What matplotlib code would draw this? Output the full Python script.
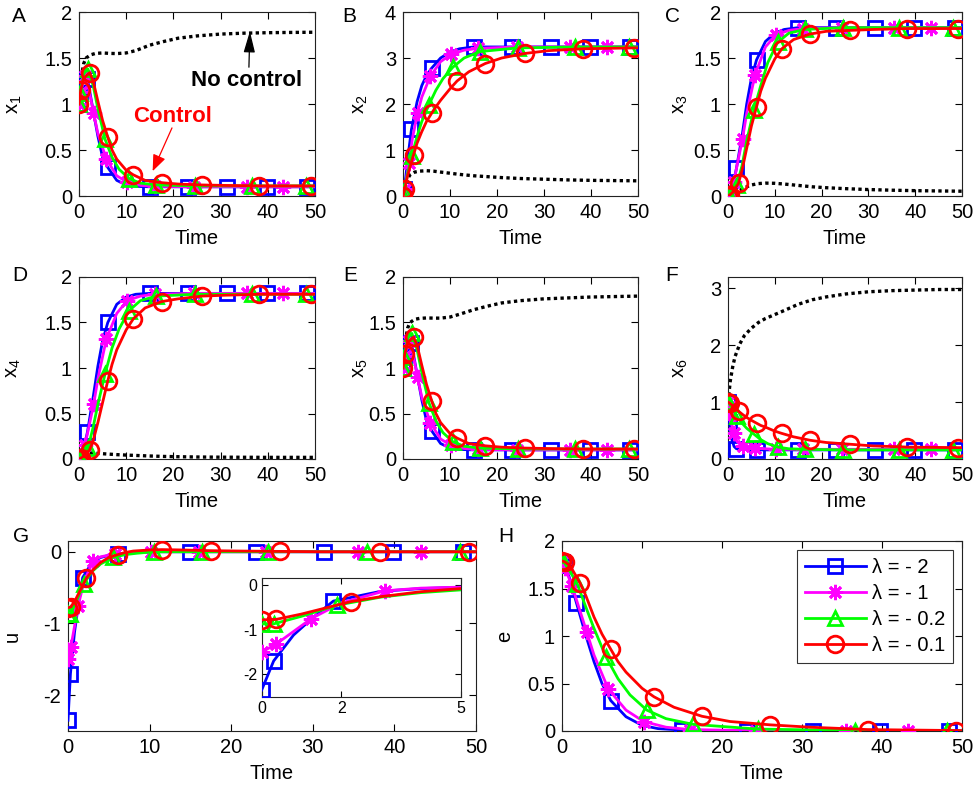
import numpy as np
import matplotlib
matplotlib.use("Agg")
import matplotlib.pyplot as plt
from matplotlib.ticker import FuncFormatter

plt.rcParams['font.family'] = ['Liberation Sans', 'DejaVu Sans']
plt.rcParams['mathtext.fontset'] = 'custom'
plt.rcParams['mathtext.rm'] = 'Liberation Sans'
plt.rcParams['mathtext.it'] = 'Liberation Sans'
plt.rcParams['mathtext.default'] = 'regular'
plt.rcParams['axes.unicode_minus'] = False

# ---------------- data ----------------
# time points of each controlled solution (lambda values)
t_blue = [0, 0.3, 0.8, 1.3, 1.8, 3, 4, 5, 6.1, 8, 10, 12, 15, 23.1, 31.4, 39.8, 48.4, 50]
mark_blue = [0, 1, 4, 8, 12, 13, 14, 15, 16]
t_mag = [0, 0.35, 1.25, 2, 3.1, 4, 5.8, 8, 10.2, 13, 16, 24.3, 35.5, 43.3, 50]
mark_mag = [0, 1, 2, 4, 6, 8, 10, 11, 12, 13]
t_green = [0, 0.3, 1, 1.9, 3, 4, 5.5, 7, 8.5, 10.6, 13, 16.4, 24.5, 36.6, 48.1, 50]
mark_green = [0, 1, 3, 6, 9, 11, 12, 13, 14]
t_red = [0, 0.36, 1, 2.25, 3, 4, 5, 6.1, 7, 8, 10, 11.5, 14, 17.5, 21, 26, 31, 38.2, 49.2, 50]
mark_red = [0, 1, 3, 7, 11, 13, 15, 17, 18]

# no-control solution
t_nc = [0, 0.5, 1, 1.5, 2.5, 3.5, 5, 6.5, 8, 10, 12, 15, 18, 21, 25, 30, 35, 40, 45, 50]

# x1
x1_blue = [1.0, 1.12, 1.25, 1.3, 1.27, 0.93, 0.65, 0.42, 0.31, 0.17, 0.12, 0.105, 0.1, 0.1, 0.1, 0.1, 0.1, 0.1]
x1_mag = [1.0, 1.13, 1.3, 1.18, 0.9, 0.68, 0.4, 0.22, 0.15, 0.115, 0.105, 0.1, 0.1, 0.1, 0.1]
x1_green = [1.0, 1.12, 1.33, 1.38, 1.2, 0.95, 0.62, 0.42, 0.29, 0.19, 0.14, 0.12, 0.11, 0.11, 0.11, 0.11]
x1_red = [1.0, 1.15, 1.28, 1.34, 1.25, 1.03, 0.82, 0.64, 0.5, 0.4, 0.28, 0.23, 0.17, 0.145, 0.13, 0.12, 0.115, 0.11, 0.11, 0.11]
x1_nc = [1.0, 1.3, 1.44, 1.5, 1.535, 1.55, 1.555, 1.55, 1.548, 1.555, 1.58, 1.64, 1.68, 1.715, 1.74, 1.76, 1.77, 1.775, 1.778, 1.78]

# x2
x2_blue = [0, 0.15, 0.6, 1.05, 1.45, 2.05, 2.4, 2.62, 2.78, 3.0, 3.13, 3.2, 3.24, 3.24, 3.24, 3.24, 3.24, 3.24]
x2_mag = [0, 0.15, 0.71, 1.25, 1.8, 2.15, 2.6, 2.92, 3.08, 3.17, 3.21, 3.24, 3.24, 3.24, 3.24]
x2_green = [0, 0.1, 0.5, 0.88, 1.3, 1.62, 1.98, 2.3, 2.55, 2.8, 3.0, 3.14, 3.22, 3.24, 3.24, 3.24]
x2_red = [0, 0.15, 0.45, 0.9, 1.15, 1.4, 1.62, 1.8, 1.94, 2.08, 2.33, 2.5, 2.7, 2.88, 3.0, 3.1, 3.16, 3.2, 3.22, 3.22]
x2_nc = [0, 0.22, 0.38, 0.46, 0.52, 0.54, 0.55, 0.54, 0.52, 0.495, 0.47, 0.44, 0.42, 0.40, 0.38, 0.365, 0.35, 0.34, 0.335, 0.33]

# x3
x3_blue = [0, 0.02, 0.08, 0.18, 0.3, 0.65, 1.0, 1.28, 1.48, 1.68, 1.77, 1.81, 1.83, 1.83, 1.83, 1.83, 1.83, 1.83]
x3_mag = [0, 0.02, 0.15, 0.35, 0.62, 0.9, 1.32, 1.62, 1.75, 1.8, 1.82, 1.83, 1.83, 1.83, 1.83]
x3_green = [0, 0.01, 0.05, 0.12, 0.33, 0.6, 0.93, 1.2, 1.45, 1.67, 1.77, 1.81, 1.83, 1.83, 1.83, 1.83]
x3_red = [0, 0.01, 0.04, 0.14, 0.28, 0.52, 0.76, 0.97, 1.14, 1.28, 1.49, 1.6, 1.7, 1.76, 1.79, 1.8, 1.81, 1.82, 1.82, 1.82]
x3_nc = [0, 0.005, 0.015, 0.03, 0.06, 0.09, 0.12, 0.135, 0.14, 0.138, 0.13, 0.115, 0.1, 0.09, 0.08, 0.07, 0.063, 0.058, 0.055, 0.052]

# x4
x4_blue = [0, 0.02, 0.08, 0.18, 0.3, 0.68, 1.02, 1.3, 1.5, 1.7, 1.78, 1.81, 1.82, 1.82, 1.82, 1.82, 1.82, 1.82]
x4_mag = [0, 0.02, 0.15, 0.33, 0.6, 0.88, 1.32, 1.6, 1.74, 1.79, 1.81, 1.82, 1.82, 1.82, 1.82]
x4_green = [0, 0.01, 0.05, 0.12, 0.35, 0.6, 0.93, 1.22, 1.43, 1.63, 1.74, 1.79, 1.81, 1.81, 1.81, 1.81]
x4_red = [0, 0.01, 0.03, 0.1, 0.2, 0.4, 0.62, 0.86, 1.04, 1.2, 1.42, 1.54, 1.66, 1.73, 1.76, 1.79, 1.8, 1.81, 1.81, 1.81]
x4_nc = [0, 0.04, 0.06, 0.066, 0.066, 0.063, 0.058, 0.053, 0.048, 0.043, 0.039, 0.033, 0.028, 0.025, 0.022, 0.02, 0.019, 0.018, 0.018, 0.018]

# x5
x5_blue = [1.0, 1.12, 1.25, 1.3, 1.27, 0.93, 0.65, 0.42, 0.31, 0.17, 0.12, 0.105, 0.1, 0.1, 0.1, 0.1, 0.1, 0.1]
x5_mag = [1.0, 1.13, 1.3, 1.18, 0.9, 0.68, 0.4, 0.22, 0.15, 0.115, 0.105, 0.1, 0.1, 0.1, 0.1]
x5_green = [1.0, 1.12, 1.33, 1.38, 1.2, 0.95, 0.62, 0.42, 0.29, 0.19, 0.14, 0.12, 0.11, 0.11, 0.11, 0.11]
x5_red = [1.0, 1.15, 1.28, 1.34, 1.25, 1.03, 0.82, 0.64, 0.5, 0.4, 0.28, 0.23, 0.17, 0.145, 0.13, 0.12, 0.115, 0.11, 0.11, 0.11]
x5_nc = [1.0, 1.3, 1.44, 1.5, 1.535, 1.545, 1.55, 1.548, 1.548, 1.56, 1.59, 1.64, 1.68, 1.715, 1.74, 1.76, 1.77, 1.78, 1.785, 1.79]

# x6
x6_blue = [1.0, 0.65, 0.35, 0.22, 0.18, 0.17, 0.17, 0.165, 0.16, 0.16, 0.16, 0.16, 0.16, 0.16, 0.16, 0.16, 0.16, 0.16]
x6_mag = [1.0, 0.75, 0.45, 0.3, 0.22, 0.2, 0.19, 0.18, 0.17, 0.17, 0.17, 0.17, 0.17, 0.17, 0.17]
x6_green = [1.0, 0.97, 0.88, 0.75, 0.63, 0.54, 0.44, 0.34, 0.27, 0.21, 0.18, 0.17, 0.16, 0.16, 0.16, 0.16]
x6_red = [1.0, 0.98, 0.94, 0.84, 0.79, 0.73, 0.68, 0.63, 0.59, 0.56, 0.49, 0.45, 0.39, 0.33, 0.29, 0.26, 0.23, 0.21, 0.2, 0.2]
x6_nc = [1.0, 1.38, 1.62, 1.8, 2.02, 2.17, 2.3, 2.4, 2.47, 2.54, 2.61, 2.72, 2.8, 2.85, 2.9, 2.94, 2.96, 2.97, 2.98, 2.98]

# u
u_blue = [-2.35, -1.7, -1.12, -0.72, -0.36, -0.14, -0.08, -0.05, -0.03, -0.01, 0, 0, 0, 0, 0, 0, 0, 0]
u_mag = [-1.5, -1.33, -0.75, -0.4, -0.13, -0.07, -0.03, -0.01, 0, 0, 0, 0, 0, 0, 0]
u_green = [-0.87, -0.87, -0.7, -0.45, -0.27, -0.17, -0.08, -0.04, -0.02, 0, 0, 0, 0, 0, 0, 0]
u_red = [-0.78, -0.77, -0.65, -0.37, -0.26, -0.15, -0.08, -0.04, -0.01, 0.01, 0.025, 0.03, 0.025, 0.015, 0.01, 0.005, 0, 0, 0, 0]

# e
e_blue = [1.78, 1.75, 1.65, 1.5, 1.35, 1.0, 0.73, 0.5, 0.32, 0.15, 0.06, 0.025, 0.01, 0, 0, 0, 0, 0]
e_mag = [1.78, 1.72, 1.53, 1.33, 1.04, 0.8, 0.44, 0.22, 0.1, 0.04, 0.015, 0.003, 0, 0, 0]
e_green = [1.78, 1.77, 1.68, 1.55, 1.3, 1.08, 0.78, 0.55, 0.38, 0.22, 0.13, 0.07, 0.02, 0.005, 0, 0]
e_red = [1.79, 1.78, 1.74, 1.56, 1.42, 1.2, 1.02, 0.86, 0.73, 0.62, 0.45, 0.36, 0.25, 0.155, 0.1, 0.065, 0.04, 0.015, 0.005, 0.005]

labels = ['λ = - 2', 'λ = - 1', 'λ = - 0.2', 'λ = - 0.1']

# ---------------- style ----------------
FS = 14.5
W, H = 976, 787
fig = plt.figure(figsize=(W / 100, H / 100), dpi=100)


def rect(l, r, t, b):
    return [l / W, (H - b) / H, (r - l) / W, (b - t) / H]


styles = [
    dict(color=(0, 0, 1), marker='s', ms=9.5),
    dict(color=(1, 0, 1), marker=(8, 2, 0), ms=11),
    dict(color=(0, 1, 0), marker='^', ms=10.5),
    dict(color=(1, 0, 0), marker='o', ms=12),
]
times = [t_blue, t_mag, t_green, t_red]
marks = [mark_blue, mark_mag, mark_green, mark_red]

fmt = FuncFormatter(lambda v, p: '%g' % v)


def style_axes(ax, fs=FS):
    ax.tick_params(direction='in', top=True, right=True, length=5, width=0.8,
                   labelsize=fs, pad=5)
    for s in ax.spines.values():
        s.set_linewidth(0.8)
        s.set_color('#222222')
    ax.xaxis.set_major_formatter(fmt)
    ax.yaxis.set_major_formatter(fmt)


def draw(ax, series, nc=None):
    if nc is not None:
        ax.plot(t_nc, nc, linestyle=(0, (1, 1)), color='k', lw=2.4, zorder=2)
    hs = []
    for i, ys in enumerate(series):
        st = styles[i]
        h, = ax.plot(times[i], ys, color=st['color'], lw=2.0, marker=st['marker'],
                     ms=st['ms'], mfc='none', mec=st['color'], mew=2.0,
                     markevery=marks[i], zorder=3 + i, label=labels[i])
        hs.append(h)
    return hs


panels = [
    ('A', rect(79, 315, 12, 196), [x1_blue, x1_mag, x1_green, x1_red], x1_nc, 'x$_1$', (0, 2), [0, 0.5, 1, 1.5, 2], -0.233, (12, 7)),
    ('B', rect(403, 638, 12, 196), [x2_blue, x2_mag, x2_green, x2_red], x2_nc, 'x$_2$', (0, 4), [0, 1, 2, 3, 4], -0.14, (342, 7)),
    ('C', rect(728, 962, 12, 196), [x3_blue, x3_mag, x3_green, x3_red], x3_nc, 'x$_3$', (0, 2), [0, 0.5, 1, 1.5, 2], -0.162, (665, 7)),
    ('D', rect(79, 315, 277, 459), [x4_blue, x4_mag, x4_green, x4_red], x4_nc, 'x$_4$', (0, 2), [0, 0.5, 1, 1.5, 2], -0.237, (12, 266)),
    ('E', rect(403, 638, 277, 459), [x5_blue, x5_mag, x5_green, x5_red], x5_nc, 'x$_5$', (0, 2), [0, 0.5, 1, 1.5, 2], -0.14, (343, 266)),
    ('F', rect(728, 962, 277, 459), [x6_blue, x6_mag, x6_green, x6_red], x6_nc, 'x$_6$', (0, 3.2), [0, 1, 2, 3], -0.162, (665, 266)),
    ('G', rect(68, 476, 541, 731), [u_blue, u_mag, u_green, u_red], None, 'u', (-2.5, 0.15), [-2, -1, 0], -0.113, (13, 527)),
    ('H', rect(562, 962, 541, 731), [e_blue, e_mag, e_green, e_red], None, 'e', (0, 2), [0, 0.5, 1, 1.5, 2], -0.12, (498, 527)),
]

axes = {}
for letter, r, series, nc, ylab, ylim, yt, ylx, lpos in panels:
    ax = fig.add_axes(r)
    hs = draw(ax, series, nc)
    ax.set_xlim(0, 50)
    ax.set_ylim(*ylim)
    ax.set_xticks([0, 10, 20, 30, 40, 50])
    ax.set_yticks(yt)
    style_axes(ax)
    ax.set_xlabel('Time', fontsize=FS, labelpad=5)
    ax.set_ylabel(ylab, fontsize=FS)
    ax.yaxis.set_label_coords(ylx, 0.5)
    fig.text(lpos[0] / W, 1 - lpos[1] / H, letter, fontsize=FS + 0.5, ha='left', va='top')
    axes[letter] = (ax, hs)

# annotations in A
axA = axes['A'][0]
axA.text(35.6, 1.26, 'No control', fontsize=16, fontweight='bold', color='k',
         ha='center', va='center')
axA.annotate('', xy=(36.2, 1.79), xytext=(36.0, 1.40),
             arrowprops=dict(arrowstyle='-|>,head_length=1.3,head_width=0.35',
                             color='k', lw=0.9, shrinkA=0, shrinkB=0))
axA.text(19.9, 0.86, 'Control', fontsize=16, fontweight='bold', color='r',
         ha='center', va='center')
axA.annotate('', xy=(15.6, 0.27), xytext=(19.7, 0.74),
             arrowprops=dict(arrowstyle='-|>,head_length=1.0,head_width=0.4',
                             color='r', lw=0.9, shrinkA=0, shrinkB=0))

# inset in G
axI = fig.add_axes(rect(261.7, 460.7, 578.3, 696.7))
draw(axI, [u_blue, u_mag, u_green, u_red])
axI.set_xlim(0, 5)
axI.set_ylim(-2.5, 0.15)
axI.set_xticks([0, 2, 5])
axI.set_yticks([-2, -1, 0])
style_axes(axI, fs=11.5)
axI.tick_params(length=4, pad=3)

# legend in H
axH, hsH = axes['H']
leg = axH.legend(handles=hsH, loc='upper right', fontsize=FS, frameon=True,
                 fancybox=False, edgecolor='k', handlelength=3.0,
                 handletextpad=0.3, labelspacing=0.35, borderaxespad=0.45,
                 borderpad=0.4)
leg.get_frame().set_linewidth(0.8)

fig.savefig('out.png', dpi=100)
